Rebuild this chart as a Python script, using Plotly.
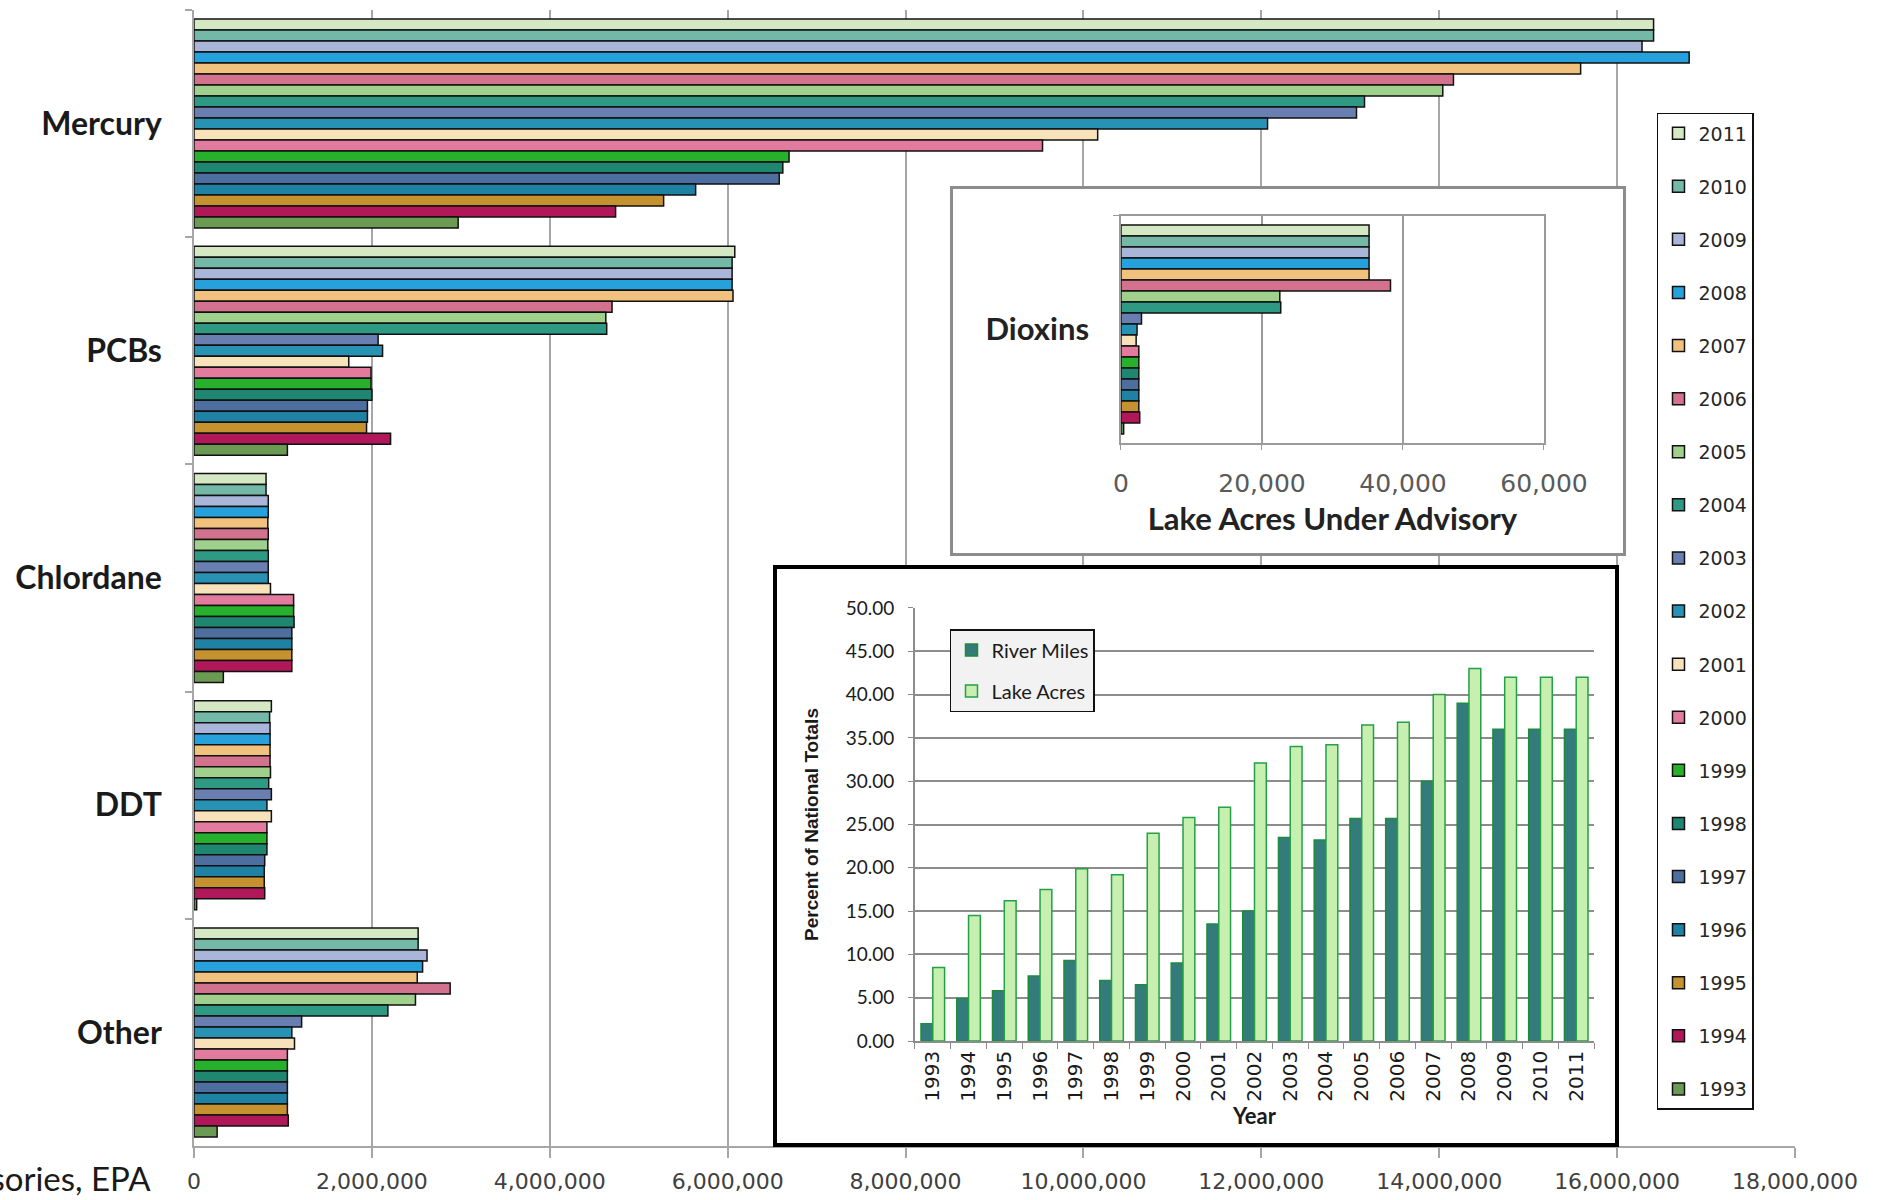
import plotly.graph_objects as go

# ---------------------------------------------------------------
# Lake acres under fish-consumption advisory, by contaminant
# ---------------------------------------------------------------
years = [2011, 2010, 2009, 2008, 2007, 2006, 2005, 2004, 2003, 2002,
         2001, 2000, 1999, 1998, 1997, 1996, 1995, 1994, 1993]
contaminants = ["Mercury", "PCBs", "Chlordane", "DDT", "Other"]

# acres, one value per year in the order of `years`
mercury = [16410000, 16410000, 16280000, 16810000, 15590000, 14160000, 14040000,
           13160000, 13070000, 12070000, 10160000, 9540000, 6690000, 6620000,
           6580000, 5640000, 5280000, 4740000, 2970000]
pcbs = [6080000, 6050000, 6050000, 6050000, 6060000, 4700000, 4630000, 4640000,
        2070000, 2120000, 1740000, 1990000, 1990000, 2000000, 1950000, 1950000,
        1940000, 2210000, 1050000]
chlordane = [810000, 810000, 835000, 835000, 830000, 835000, 830000, 835000,
             835000, 835000, 860000, 1120000, 1120000, 1125000, 1100000,
             1100000, 1100000, 1100000, 330000]
ddt = [870000, 850000, 855000, 855000, 855000, 855000, 860000, 840000, 870000,
       820000, 870000, 820000, 820000, 820000, 795000, 790000, 790000, 795000,
       30000]
other = [2520000, 2520000, 2620000, 2570000, 2510000, 2880000, 2490000, 2180000,
         1210000, 1100000, 1130000, 1050000, 1050000, 1050000, 1050000, 1050000,
         1050000, 1060000, 260000]
dioxins = [35190, 35190, 35190, 35190, 35190, 38230, 22530, 22660, 2910, 2280,
           2150, 2530, 2530, 2530, 2530, 2530, 2530, 2660, 380]

# share of national totals under advisory (%)
trend_years = ["1993", "1994", "1995", "1996", "1997", "1998", "1999", "2000",
               "2001", "2002", "2003", "2004", "2005", "2006", "2007", "2008",
               "2009", "2010", "2011"]
river_miles_pct = [2.0, 4.9, 5.8, 7.5, 9.3, 7.0, 6.5, 9.0, 13.5, 15.0, 23.5,
                   23.2, 25.7, 25.7, 30.0, 39.0, 36.0, 36.0, 36.0]
lake_acres_pct = [8.5, 14.5, 16.2, 17.5, 19.9, 19.2, 24.0, 25.8, 27.0, 32.1,
                  34.0, 34.2, 36.5, 36.8, 40.0, 43.0, 42.0, 42.0, 42.0]

year_colors = ["#d4e9c3", "#74b9a7", "#aab6d9", "#26a1db", "#f1c27e", "#d3728f",
               "#9fd08c", "#2e9a84", "#6a7fb1", "#2892b5", "#f8e2ba", "#e27b9d",
               "#27b02b", "#1f8670", "#4d6fa0", "#1f82a4", "#c6922f", "#b0185a",
               "#6b9a52"]

GRID = "#a6a6a6"
fig = go.Figure()

# main chart: one bar trace per year, grouped within each contaminant
for i, yr in enumerate(years):
    fig.add_trace(go.Bar(
        name=str(yr), legendgroup=str(yr), legend="legend",
        y=contaminants,
        x=[mercury[i], pcbs[i], chlordane[i], ddt[i], other[i]],
        orientation="h",
        marker=dict(color=year_colors[i], line=dict(color="#111111", width=1.5)),
        xaxis="x", yaxis="y",
    ))

# frames behind the two insets (empty subplots used as opaque panels)
for ax in ("2", "3"):
    fig.add_trace(go.Scatter(x=[None], y=[None], mode="markers", showlegend=False,
                             hoverinfo="skip", xaxis="x" + ax, yaxis="y" + ax))

# dioxins inset
for i, yr in enumerate(years):
    fig.add_trace(go.Bar(
        name=str(yr), showlegend=False,
        y=["Dioxins"], x=[dioxins[i]], orientation="h",
        marker=dict(color=year_colors[i], line=dict(color="#111111", width=1.5)),
        xaxis="x4", yaxis="y4",
    ))

# percent-of-national-totals inset
fig.add_trace(go.Bar(
    name="River Miles", legend="legend2", legendgroup="river",
    x=trend_years, y=river_miles_pct, offset=-0.33, width=0.33,
    marker=dict(color="#347b7b", line=dict(color="#1e8c3c", width=1.5)),
    xaxis="x5", yaxis="y5",
))
fig.add_trace(go.Bar(
    name="Lake Acres", legend="legend2", legendgroup="lake",
    x=trend_years, y=lake_acres_pct, offset=0.0, width=0.33,
    marker=dict(color="#c6efb0", line=dict(color="#25a046", width=1.5)),
    xaxis="x5", yaxis="y5",
))

frame_axis = dict(range=[0, 1], showline=True, mirror=True, showticklabels=False,
                  ticks="", showgrid=False, zeroline=False, fixedrange=True)

fig.update_layout(
    template="none",
    width=1885, height=1200,
    margin=dict(l=194, r=90, t=10, b=54, autoexpand=False),
    paper_bgcolor="white", plot_bgcolor="white",
    barmode="group", bargap=0.08, bargroupgap=0,
    showlegend=True,
    xaxis=dict(
        domain=[0, 1], anchor="y", range=[0, 18000000], dtick=2000000,
        tickformat=",", showgrid=True, gridcolor=GRID, gridwidth=1.5,
        ticks="outside", ticklen=10, tickwidth=1.5, tickcolor=GRID,
        showline=True, linecolor=GRID, linewidth=1.5, zeroline=False,
        tickfont=dict(family="DejaVu Sans", size=22, color="#404040"),
        ticklabelstandoff=5,
    ),
    yaxis=dict(
        domain=[0, 1], anchor="x", type="category", categoryorder="array",
        categoryarray=contaminants, range=[4.5, -0.5], tickson="boundaries",
        ticks="outside", ticklen=7, tickwidth=1.5, tickcolor=GRID,
        showline=True, linecolor=GRID, linewidth=1.5, showgrid=False,
        zeroline=False,
        tickfont=dict(family="Lato", size=32, color="#1a1a1a", weight=700),
        ticklabelstandoff=24,
    ),
    xaxis2=dict(frame_axis, domain=[0.4741, 0.8926], anchor="y2",
                linecolor="#8c8c8c", linewidth=3),
    yaxis2=dict(frame_axis, domain=[0.522, 0.8424], anchor="x2",
                linecolor="#8c8c8c", linewidth=3),
    xaxis3=dict(frame_axis, domain=[0.3641, 0.8876], anchor="y3",
                linecolor="#000000", linewidth=4),
    yaxis3=dict(frame_axis, domain=[0.0026, 0.5079], anchor="x3",
                linecolor="#000000", linewidth=4),
    xaxis4=dict(
        domain=[0.579, 0.8432], anchor="y4", range=[0, 60000], dtick=20000,
        tickformat=",", showgrid=True, gridcolor="#9a9a9a", gridwidth=1.5,
        ticks="outside", ticklen=5, tickcolor="#9a9a9a", showline=True,
        mirror=True, linecolor="#9a9a9a", linewidth=1.5, zeroline=False,
        tickfont=dict(family="DejaVu Sans", size=25, color="#5a5a5a"),
        ticklabelstandoff=12,
        title=dict(text="Lake Acres Under Advisory", standoff=12,
                   font=dict(family="Lato", size=31, color="#222222", weight=700)),
    ),
    yaxis4=dict(
        domain=[0.6188, 0.8187], anchor="x4", type="category",
        categoryarray=["Dioxins"], range=[0.5, -0.5], tickson="boundaries",
        ticks="outside", ticklen=6, tickcolor="#9a9a9a", showline=True,
        mirror=True, linecolor="#9a9a9a", linewidth=1.5, showgrid=False,
        zeroline=False,
        tickfont=dict(family="Lato", size=31, color="#222222", weight=700),
        ticklabelstandoff=24,
    ),
    xaxis5=dict(
        domain=[0.4503, 0.8745], anchor="y5", type="category",
        categoryarray=trend_years, range=[-0.5, 18.5], tickangle=-90,
        tickson="boundaries", ticks="outside", ticklen=6, tickcolor="#8c8c8c",
        showline=True, linecolor="#8c8c8c", linewidth=1.5, showgrid=False,
        zeroline=False,
        tickfont=dict(family="DejaVu Sans", size=20, color="#1a1a1a"),
        title=dict(text="Year", standoff=8,
                   font=dict(family="Lato", size=22, color="#1a1a1a", weight=700)),
    ),
    yaxis5=dict(
        domain=[0.0924, 0.4736], anchor="x5", range=[0, 50], dtick=5,
        tickformat=".2f", showgrid=True, gridcolor="#8c8c8c", gridwidth=2,
        ticks="outside", ticklen=5, tickcolor="#8c8c8c", showline=True,
        linecolor="#8c8c8c", linewidth=1.5, zeroline=False,
        tickfont=dict(family="Lato", size=19, color="#1a1a1a"),
        ticklabelstandoff=10,
        title=dict(text="Percent of National Totals", standoff=22,
                   font=dict(family="Liberation Sans", size=19, color="#1a1a1a",
                             weight=700)),
    ),
    legend=dict(
        x=0.9138, y=0.9095, xanchor="left", yanchor="top",
        bgcolor="white", bordercolor="#111111", borderwidth=1.5,
        font=dict(family="DejaVu Sans", size=19, color="#262626"),
        tracegroupgap=25.4, traceorder="grouped",
    ),
    legend2=dict(
        x=0.4722, y=0.4551, xanchor="left", yanchor="top",
        bgcolor="#f2f2f2", bordercolor="#111111", borderwidth=1.5,
        font=dict(family="Lato", size=20, color="#1a1a1a"),
        tracegroupgap=12, traceorder="grouped",
    ),
    annotations=[dict(
        text="Advisories, EPA", xref="paper", yref="paper",
        x=-0.0255, y=-0.0282, xanchor="right", yanchor="middle",
        showarrow=False, font=dict(family="Lato", size=33, color="#1a1a1a"),
    )],
)

fig.write_html("out.html")
